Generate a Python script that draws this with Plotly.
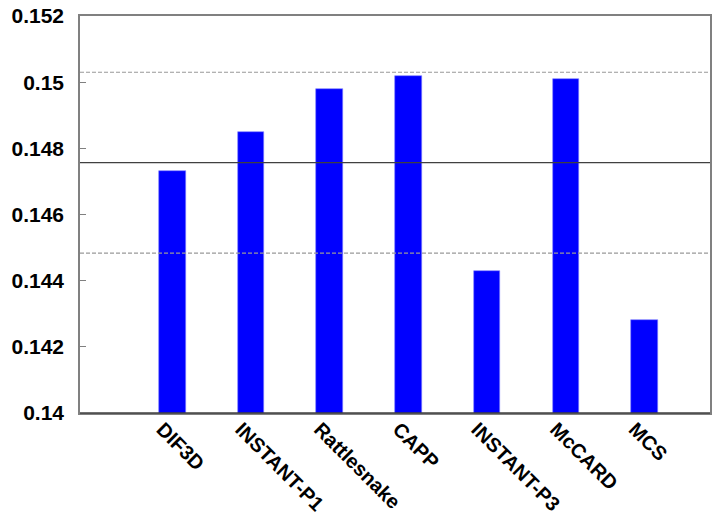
import plotly.graph_objects as go

codes = ["DIF3D", "INSTANT-P1", "Rattlesnake", "CAPP", "INSTANT-P3", "McCARD", "MCS"]
values = [0.1473, 0.1485, 0.1498, 0.1502, 0.1443, 0.1501, 0.1428]
mean_line = 0.14757
band_upper = 0.15030
band_lower = 0.14483
y_ticks = [0.14, 0.142, 0.144, 0.146, 0.148, 0.15, 0.152]
y_tick_text = ["0.14", "0.142", "0.144", "0.146", "0.148", "0.15", "0.152"]

fig = go.Figure()
fig.add_trace(go.Bar(
    x=codes, y=values, width=0.337,
    marker=dict(color="#0000FF", line=dict(color="#8080FF", width=0.6)),
    showlegend=False,
))

fig.update_layout(
    width=718, height=526,
    margin=dict(l=80, r=8, t=16, b=113, autoexpand=False),
    paper_bgcolor="white", plot_bgcolor="white",
    font=dict(family="Liberation Sans, Arial, sans-serif", color="black"),
    bargap=0,
)
fig.add_shape(type="line", xref="paper", yref="paper", x0=0, x1=1, y0=0, y1=0,
              line=dict(color="#404040", width=1.5))
fig.add_hline(y=mean_line, line=dict(color="#404040", width=1.2), layer="above")
fig.add_hline(y=band_upper, line=dict(color="#999999", width=1.2, dash="4px,2px"), layer="above")
fig.add_hline(y=band_lower, line=dict(color="#999999", width=1.2, dash="4px,2px"), layer="above")

fig.update_xaxes(
    type="category", range=[-1.172, 6.83], automargin=False,
    tickangle=45, tickfont=dict(size=20, weight="bold"),
    ticklabelshift=-10, ticklabelstandoff=-5, ticklabeloverflow="allow",
    showline=True, linecolor="#808080", linewidth=1.5, mirror=True,
    ticks="", showgrid=False, zeroline=False,
)
fig.update_yaxes(
    range=[0.14, 0.152], tickvals=y_ticks, ticktext=y_tick_text, automargin=False,
    tickfont=dict(size=21, weight="bold"), ticklabelstandoff=10,
    ticklabeloverflow="allow",
    ticks="inside", ticklen=6, tickcolor="#808080", tickwidth=1,
    showline=True, linecolor="#808080", linewidth=1.5, mirror=True,
    showgrid=False, zeroline=False,
)

fig.write_html(
    "out.html",
    config={"displayModeBar": False},
    post_script="document.body.style.margin='0px';document.body.style.overflow='hidden';",
)
